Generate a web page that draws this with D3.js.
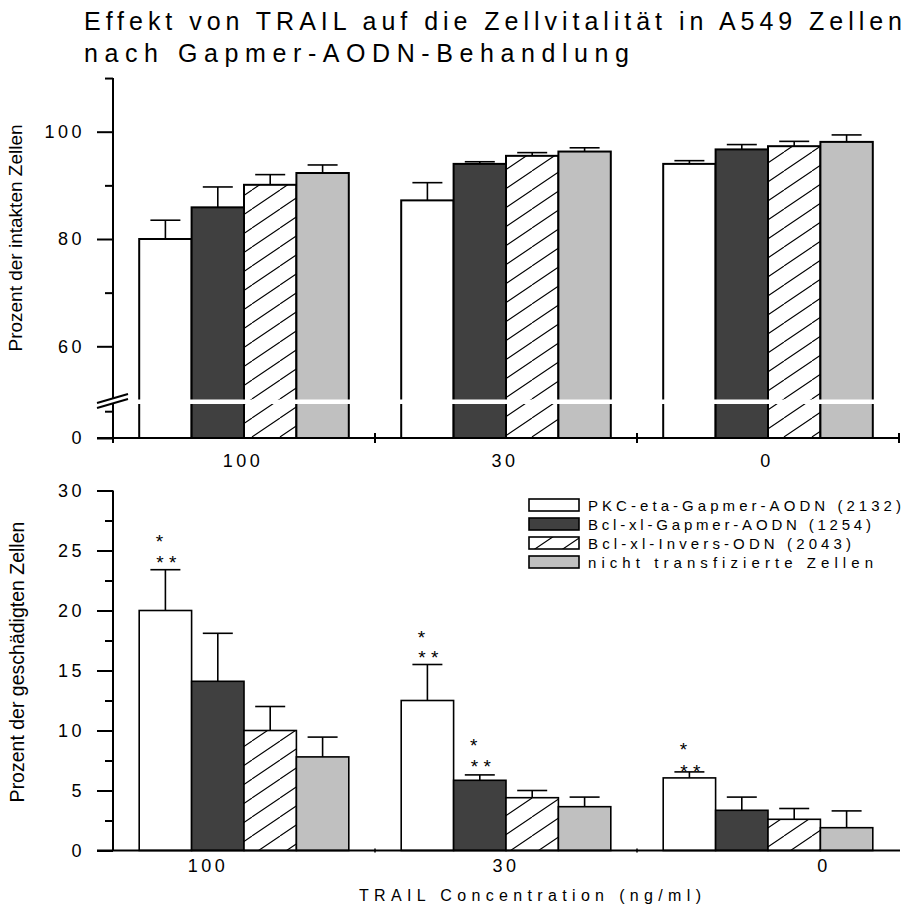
<!DOCTYPE html>
<html><head><meta charset="utf-8">
<script src="https://cdn.jsdelivr.net/npm/d3@7"></script>
<style>
body{margin:0;background:#fff}
svg{display:block}
text{font-family:"Liberation Sans",Arial,Helvetica,sans-serif;fill:#000}
</style>
</head><body>
<svg id="c" width="919" height="912"></svg>
<script>
// ---------- data ----------
const groups = ["100", "30", "0"];
const seriesNames = ["PKC-eta-Gapmer-AODN (2132)", "Bcl-xl-Gapmer-AODN (1254)", "Bcl-xl-Invers-ODN (2043)", "nicht transfizierte Zellen"];
// Prozent der intakten Zellen (mean, error) per series over groups
const intactPKC   = [80.0, 87.2, 94.0];
const intactBcl   = [85.9, 94.0, 96.7];
const intactInv   = [90.1, 95.5, 97.3];
const intactNT    = [92.3, 96.3, 98.1];
const intactErrPKC = [3.5, 3.3, 0.6];
const intactErrBcl = [3.8, 0.4, 0.9];
const intactErrInv = [1.9, 0.6, 0.9];
const intactErrNT  = [1.5, 0.7, 1.3];
// Prozent der geschädigten Zellen
const damagedPKC = [20.0, 12.5, 6.05];
const damagedBcl = [14.1, 5.85, 3.35];
const damagedInv = [10.0, 4.4, 2.6];
const damagedNT  = [7.8, 3.65, 1.9];
const damagedErrPKC = [3.4, 3.0, 0.5];
const damagedErrBcl = [4.0, 0.45, 1.1];
const damagedErrInv = [2.0, 0.6, 0.9];
const damagedErrNT  = [1.65, 0.8, 1.4];
// significance marks: [group, series, value of "**" row, value of "*" row]
const starMarks = [["100", 0, 24.4, 26.1], ["30", 0, 16.5, 18.15], ["30", 1, 7.35, 9.15], ["0", 0, 7.0, 8.8]];
const topMajorTicks = [60, 80, 100];
const topMinorTicks = [70, 90, 110];
const topLowMajorTicks = [0];
const topLowMinorTicks = [5];
const botMajorTicks = [0, 5, 10, 15, 20, 25, 30];
const botMinorTicks = [2.5, 7.5, 12.5, 17.5, 22.5, 27.5];

const intact = [intactPKC, intactBcl, intactInv, intactNT];
const intactErr = [intactErrPKC, intactErrBcl, intactErrInv, intactErrNT];
const damaged = [damagedPKC, damagedBcl, damagedInv, damagedNT];
const damagedErr = [damagedErrPKC, damagedErrBcl, damagedErrInv, damagedErrNT];

// ---------- layout ----------
const svg = d3.select("#c");
const fills = ["#ffffff", "#404040", "url(#hatch)", "#c0c0c0"];
const defs = svg.append("defs");
const pat = defs.append("pattern").attr("id", "hatch").attr("patternUnits", "userSpaceOnUse")
  .attr("width", 28).attr("height", 19);
pat.append("rect").attr("width", 28).attr("height", 19).attr("fill", "#fff");
pat.append("path").attr("d", "M-28,19 L0,0 M0,19 L28,0 M28,19 L56,0").attr("stroke", "#000").attr("stroke-width", 1.1);

const axisX0 = 113, axisX1 = 899;
const x = d3.scaleBand().domain(groups).range([axisX0, axisX1]).paddingInner(0).paddingOuter(0);
const xs = d3.scaleBand().domain(d3.range(4)).range([x.bandwidth() * 0.1, x.bandwidth() * 0.9]);
// group label offsets as placed in the original figure
const topLabelShift = [-3, -3, -3];
const botLabelShift = [-38, -2, 54];

// top panel scales (broken axis)
const topBase = 438;
const yUp = d3.scaleLinear().domain([60, 100]).range([346.3, 131.7]);
const yLow = d3.scaleLinear().domain([0, 5]).range([topBase, 411.2]);
// bottom panel
const yB = d3.scaleLinear().domain([0, 30]).range([850.5, 490.5]);

const tickFont = "18px";
function styleAxis(g) {
  g.select(".domain").remove();
  g.selectAll(".tick line").attr("stroke", "#000").attr("stroke-width", 2);
  g.selectAll(".tick text").style("font-size", tickFont).style("letter-spacing", "3.5px");
}

// ---------- top panel ----------
const topG = svg.append("g");
groups.forEach((gname, gi) => {
  for (let s = 0; s < 4; s++) {
    const bx = x(gname) + xs(s), bw = xs.bandwidth();
    const v = intact[s][gi], e = intactErr[s][gi];
    topG.append("rect").attr("x", bx).attr("y", yUp(v)).attr("width", bw).attr("height", topBase - yUp(v))
      .attr("fill", fills[s]).attr("stroke", "#000").attr("stroke-width", 2);
    const cx = bx + bw / 2;
    topG.append("line").attr("x1", cx).attr("x2", cx).attr("y1", yUp(v)).attr("y2", yUp(v + e)).attr("stroke", "#000").attr("stroke-width", 1.6);
    topG.append("line").attr("x1", cx - 15).attr("x2", cx + 15).attr("y1", yUp(v + e)).attr("y2", yUp(v + e)).attr("stroke", "#000").attr("stroke-width", 1.6);
  }
});
// break stripe
topG.append("rect").attr("x", 100).attr("y", 399.5).attr("width", 800).attr("height", 4.5).attr("fill", "#fff");
// y axis
topG.append("line").attr("x1", axisX0).attr("x2", axisX0).attr("y1", yUp(110)).attr("y2", 399).attr("stroke", "#000").attr("stroke-width", 2);
topG.append("line").attr("x1", axisX0).attr("x2", axisX0).attr("y1", 404).attr("y2", topBase + 5).attr("stroke", "#000").attr("stroke-width", 2);
topG.append("g").attr("transform", `translate(${axisX0},0)`)
  .call(d3.axisLeft(yUp).tickValues(topMajorTicks).tickSize(16).tickPadding(12).tickFormat(d3.format("d"))).call(styleAxis);
topG.append("g").attr("transform", `translate(${axisX0},0)`)
  .call(d3.axisLeft(yUp).tickValues(topMinorTicks).tickSize(8).tickFormat("")).call(styleAxis);
topG.append("g").attr("transform", `translate(${axisX0},0)`)
  .call(d3.axisLeft(yLow).tickValues(topLowMajorTicks).tickSize(16).tickPadding(12).tickFormat(d3.format("d"))).call(styleAxis);
topG.append("g").attr("transform", `translate(${axisX0},0)`)
  .call(d3.axisLeft(yLow).tickValues(topLowMinorTicks).tickSize(8).tickFormat("")).call(styleAxis);
// break marks
topG.append("line").attr("x1", 97).attr("y1", 408).attr("x2", 128).attr("y2", 399).attr("stroke", "#000").attr("stroke-width", 2);
topG.append("line").attr("x1", 97).attr("y1", 403).attr("x2", 128).attr("y2", 394).attr("stroke", "#000").attr("stroke-width", 2);
// x axis
topG.append("line").attr("x1", 97).attr("x2", 900).attr("y1", topBase).attr("y2", topBase).attr("stroke", "#000").attr("stroke-width", 2);
const boundaries = [axisX0, ...groups.map(g => x(g) + x.bandwidth())];
boundaries.forEach((bx, i) => {
  topG.append("line").attr("x1", bx).attr("x2", bx).attr("y1", i === 0 ? topBase : topBase - 5).attr("y2", topBase + 5).attr("stroke", "#000").attr("stroke-width", 2);
});
topG.selectAll(".xl").data(groups).enter().append("text")
  .attr("x", (d, i) => x(d) + x.bandwidth() / 2 + topLabelShift[i] + 2).attr("y", 467).attr("text-anchor", "middle")
  .style("font-size", tickFont).style("letter-spacing", "3.5px").text(d => d);
topG.append("text").attr("transform", "translate(22,238) rotate(-90)").attr("text-anchor", "middle")
  .style("font-size", "19px").text("Prozent der intakten Zellen");

// ---------- bottom panel ----------
const botG = svg.append("g");
groups.forEach((gname, gi) => {
  for (let s = 0; s < 4; s++) {
    const bx = x(gname) + xs(s), bw = xs.bandwidth();
    const v = damaged[s][gi], e = damagedErr[s][gi];
    botG.append("rect").attr("x", bx).attr("y", yB(v)).attr("width", bw).attr("height", yB(0) - yB(v))
      .attr("fill", fills[s]).attr("stroke", "#000").attr("stroke-width", 1.6);
    const cx = bx + bw / 2;
    botG.append("line").attr("x1", cx).attr("x2", cx).attr("y1", yB(v)).attr("y2", yB(v + e)).attr("stroke", "#000").attr("stroke-width", 1.6);
    botG.append("line").attr("x1", cx - 15).attr("x2", cx + 15).attr("y1", yB(v + e)).attr("y2", yB(v + e)).attr("stroke", "#000").attr("stroke-width", 1.6);
  }
});
starMarks.forEach(([gname, s, v2, v1]) => {
  const cx = x(gname) + xs(s) + xs.bandwidth() / 2;
  const t = botG.append("text").attr("text-anchor", "middle").style("font-size", "19px");
  t.append("tspan").attr("x", cx - 6).attr("y", yB(v1) + 11).text("*");
  t.append("tspan").attr("x", cx + 1).attr("y", yB(v2) + 11).text("* *");
});
botG.append("line").attr("x1", axisX0).attr("x2", axisX0).attr("y1", yB(30)).attr("y2", yB(0)).attr("stroke", "#000").attr("stroke-width", 2);
botG.append("g").attr("transform", `translate(${axisX0},0)`)
  .call(d3.axisLeft(yB).tickValues(botMajorTicks).tickSize(16).tickPadding(12).tickFormat(d3.format("d"))).call(styleAxis);
botG.append("g").attr("transform", `translate(${axisX0},0)`)
  .call(d3.axisLeft(yB).tickValues(botMinorTicks).tickSize(8).tickFormat("")).call(styleAxis);
botG.append("line").attr("x1", 97).attr("x2", 900).attr("y1", yB(0)).attr("y2", yB(0)).attr("stroke", "#000").attr("stroke-width", 2);
boundaries.slice(1, 3).forEach(bx => {
  botG.append("line").attr("x1", bx).attr("x2", bx).attr("y1", yB(0) - 2).attr("y2", yB(0) + 2).attr("stroke", "#000").attr("stroke-width", 1.5);
});
botG.selectAll(".xl").data(groups).enter().append("text")
  .attr("x", (d, i) => x(d) + x.bandwidth() / 2 + botLabelShift[i] + 2).attr("y", 872).attr("text-anchor", "middle")
  .style("font-size", tickFont).style("letter-spacing", "3.5px").text(d => d);
botG.append("text").attr("x", 359).attr("y", 901)
  .attr("textLength", 342).attr("lengthAdjust", "spacing")
  .style("font-size", "16px").text("TRAIL Concentration (ng/ml)");
botG.append("text").attr("transform", "translate(24,662) rotate(-90)").attr("text-anchor", "middle")
  .style("font-size", "19.5px").text("Prozent der geschädigten Zellen");

// legend
const legendTextLen = [313, 283, 263, 285];
const leg = svg.append("g");
seriesNames.forEach((n, i) => {
  const ly = 505 + i * 19;
  leg.append("rect").attr("x", 529).attr("y", ly - 6).attr("width", 50).attr("height", 12)
    .attr("fill", fills[i]).attr("stroke", "#000").attr("stroke-width", 1.6);
  leg.append("text").attr("x", 588).attr("y", ly + 5.5).style("font-size", "15px")
    .attr("textLength", legendTextLen[i]).attr("lengthAdjust", "spacing").text(n);
});

// title
svg.append("text").attr("x", 84).attr("y", 30).style("font-size", "25px")
  .attr("textLength", 818).attr("lengthAdjust", "spacing")
  .text("Effekt von TRAIL auf die Zellvitalität in A549 Zellen");
svg.append("text").attr("x", 84).attr("y", 62).style("font-size", "25px")
  .attr("textLength", 545).attr("lengthAdjust", "spacing")
  .text("nach Gapmer-AODN-Behandlung");
</script>
</body></html>
